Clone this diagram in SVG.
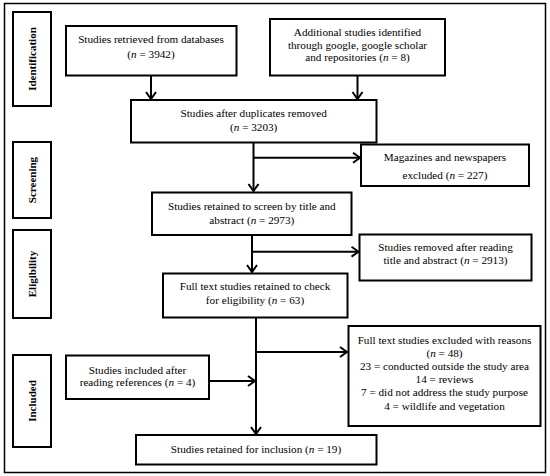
<svg xmlns="http://www.w3.org/2000/svg" width="550" height="476" viewBox="0 0 550 476">
<style>
.box{fill:#fff;stroke:#000;stroke-width:2}
.t{font-family:"Liberation Serif","Times New Roman",serif;font-size:11.2px;fill:#000;text-anchor:middle}
.s{font-family:"Liberation Serif","Times New Roman",serif;font-size:11px;font-weight:bold;fill:#000;text-anchor:middle}
.c{fill:none;stroke:#000;stroke-width:2}
.i{font-style:italic}
</style>
<defs>
<marker id="ah" markerUnits="userSpaceOnUse" markerWidth="12" markerHeight="14" refX="8" refY="6" orient="auto" viewBox="0 0 12 12">
<path d="M1,1 L8,6 L1,11" fill="none" stroke="#000" stroke-width="2"/>
</marker>
</defs>
<rect x="4.5" y="3.5" width="541" height="469" fill="#fff" stroke="#000" stroke-width="1.5"/>
<g id="stage-identification"><rect class="box" x="13" y="12" width="38" height="94"/><text class="s" transform="translate(36,59) rotate(-90)">Identification</text></g>
<g id="stage-screening"><rect class="box" x="13" y="142" width="38" height="76"/><text class="s" transform="translate(36,180) rotate(-90)">Screening</text></g>
<g id="stage-eligibility"><rect class="box" x="13" y="230" width="38" height="88"/><text class="s" transform="translate(36,274) rotate(-90)">Eligibility</text></g>
<g id="stage-included"><rect class="box" x="13" y="355" width="38" height="92"/><text class="s" transform="translate(36,401) rotate(-90)">Included</text></g>

<g id="connectors">
<line class="c" x1="151" y1="75" x2="151" y2="99" marker-end="url(#ah)"/>
<line class="c" x1="357.5" y1="75" x2="357.5" y2="99" marker-end="url(#ah)"/>
<line class="c" x1="253.5" y1="142" x2="253.5" y2="191" marker-end="url(#ah)"/>
<line class="c" x1="253.5" y1="157.7" x2="360" y2="157.7" marker-end="url(#ah)"/>
<line class="c" x1="252" y1="235" x2="252" y2="272" marker-end="url(#ah)"/>
<line class="c" x1="252" y1="251.7" x2="358.5" y2="251.7" marker-end="url(#ah)"/>
<line class="c" x1="256" y1="318" x2="256" y2="434" marker-end="url(#ah)"/>
<line class="c" x1="256" y1="352" x2="347" y2="352" marker-end="url(#ah)"/>
<line class="c" x1="209" y1="381" x2="255" y2="381" marker-end="url(#ah)"/>
</g>

<g id="n-databases"><rect class="box" x="66" y="26" width="170.5" height="49.5"/>
<text class="t" x="151" y="43">Studies retrieved from databases</text>
<text class="t" x="151" y="58">(<tspan class="i">n</tspan> = 3942)</text></g>

<g id="n-additional"><rect class="box" x="270" y="19" width="175" height="56.5"/>
<text class="t" x="357.5" y="36">Additional studies identified</text>
<text class="t" x="357.5" y="48.5">through google, google scholar</text>
<text class="t" x="357.5" y="61">and repositories (<tspan class="i">n</tspan> = 8)</text></g>

<g id="n-duplicates"><rect class="box" x="131" y="100" width="245.5" height="42.5"/>
<text class="t" x="253.7" y="117">Studies after duplicates removed</text>
<text class="t" x="253.7" y="130.5">(<tspan class="i">n</tspan> = 3203)</text></g>

<g id="n-magazines"><rect class="box" x="361" y="144.5" width="168" height="41.5"/>
<text class="t" x="445" y="161">Magazines and newspapers</text>
<text class="t" x="445" y="178.5">excluded (<tspan class="i">n</tspan> = 227)</text></g>

<g id="n-screen"><rect class="box" x="152" y="192.5" width="199.5" height="42.5"/>
<text class="t" x="251.8" y="209.5">Studies retained to screen by title and</text>
<text class="t" x="251.8" y="223.5">abstract (<tspan class="i">n</tspan> = 2973)</text></g>

<g id="n-removed"><rect class="box" x="359.5" y="234.5" width="172" height="46"/>
<text class="t" x="445.5" y="251">Studies removed after reading</text>
<text class="t" x="445.5" y="264">title and  abstract (<tspan class="i">n</tspan> = 2913)</text></g>

<g id="n-fulltext"><rect class="box" x="163" y="273.5" width="184.5" height="44"/>
<text class="t" x="255" y="290">Full text studies retained  to check</text>
<text class="t" x="255" y="304">for eligibility (<tspan class="i">n</tspan> = 63)</text></g>

<g id="n-excluded"><rect class="box" x="348.5" y="326" width="192" height="100"/>
<text class="t" x="444.5" y="344">Full text studies excluded with reasons</text>
<text class="t" x="444.5" y="357">(<tspan class="i">n</tspan> = 48)</text>
<text class="t" x="444.5" y="370">23 = conducted outside the study area</text>
<text class="t" x="444.5" y="383">14 = reviews</text>
<text class="t" x="444.5" y="396">7 = did not address the study purpose</text>
<text class="t" x="444.5" y="409.5">4 = wildlife and vegetation</text></g>

<g id="n-references"><rect class="box" x="66" y="355.5" width="143" height="43.5"/>
<text class="t" x="137.5" y="373.5">Studies included  after</text>
<text class="t" x="137.5" y="386">reading references (<tspan class="i">n</tspan> = 4)</text></g>

<g id="n-inclusion"><rect class="box" x="136" y="435" width="240.5" height="29.5"/>
<text class="t" x="256" y="452.5">Studies retained for inclusion (<tspan class="i">n</tspan> = 19)</text></g>
</svg>
